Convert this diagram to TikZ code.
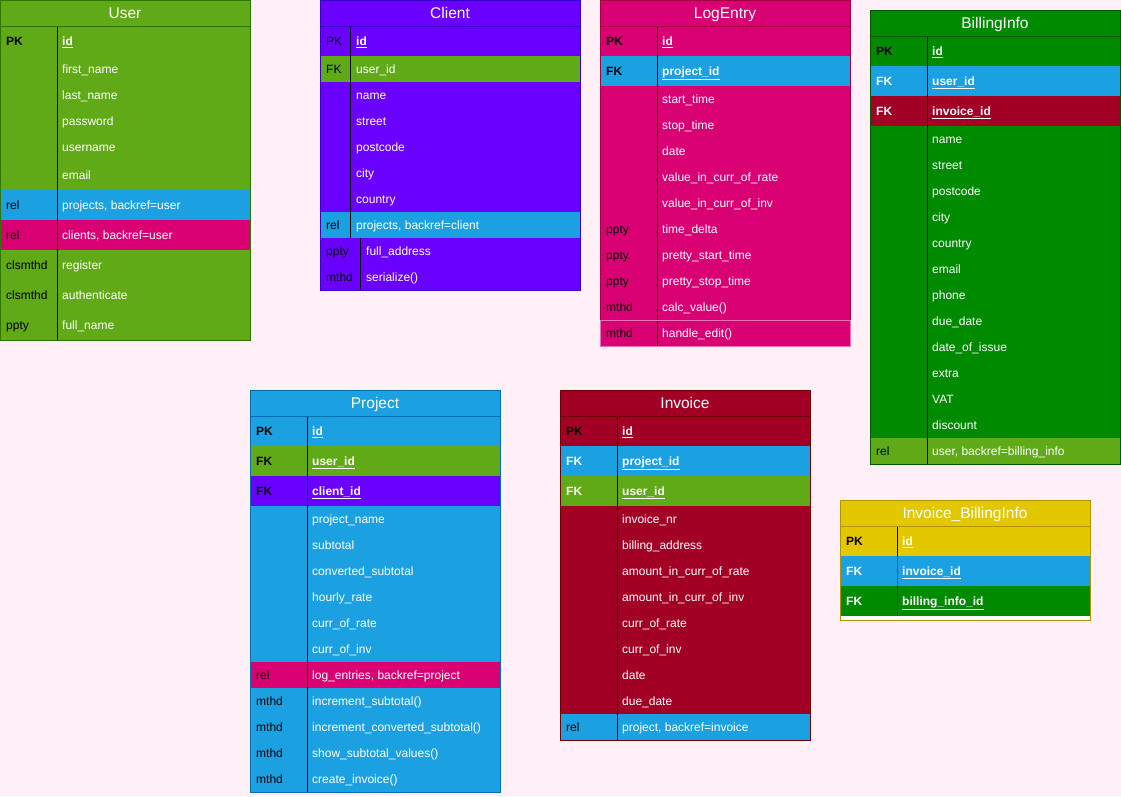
\documentclass[tikz,border=0pt]{standalone}
\usepackage{fontspec}
\setmainfont{Liberation Sans}
\usepackage{tikz}

\definecolor{bgpink}{HTML}{FFF0F8}
\definecolor{grnU}{HTML}{60A917}  \definecolor{grnUd}{HTML}{2D7600}
\definecolor{purC}{HTML}{6A00FF}  \definecolor{purCd}{HTML}{3700CC}
\definecolor{pnkL}{HTML}{D80073}  \definecolor{pnkLd}{HTML}{A50040}
\definecolor{grnB}{HTML}{008A00}  \definecolor{grnBd}{HTML}{005700}
\definecolor{bluP}{HTML}{1BA1E2}  \definecolor{bluPd}{HTML}{006EAF}
\definecolor{redI}{HTML}{A20025}  \definecolor{redId}{HTML}{6F0000}
\definecolor{ylwIB}{HTML}{E3C800} \definecolor{ylwIBd}{HTML}{B09500}

\newcommand{\idf}[1]{\textbf{\underline{#1}}}
\newcommand{\kb}[1]{\textbf{#1}}
\newcommand{\kw}[1]{\textcolor{white}{\textbf{#1}}}

\tikzset{
  hdr/.style={anchor=base, text=white, inner sep=0pt, font=\fontsize{15.5}{18}\selectfont},
  keytxt/.style={anchor=base west, text=black, inner sep=0pt, font=\fontsize{12}{14}\selectfont},
  valtxt/.style={anchor=base west, text=white, inner sep=0pt, font=\fontsize{12}{14}\selectfont},
  sep/.style={white, opacity=.25, line width=.8},
  divline/.style={black, line width=.8},
}

% header of a table: name, width, fill, title
\newcommand{\tabhead}[4]{%
  \fill[#3] (0,0) rectangle (#2,26);
  \node[hdr] (#1) at ({#2/2},18.5) {#4};}
% rows of a table: name, width, x of values, list top/bottom/fill/key/value
\newcommand{\tabrows}[4]{%
  \foreach \ta/\tb/\cl/\ky/\vl [count=\n] in {#4}{
    \fill[\cl] (0,\ta) rectangle (#2,\tb);
    \draw[sep] (0,\tb) -- (#2,\tb);
    \node[keytxt] (#1-k\n) at (6,{(\ta+\tb)/2+4.3}) {\ky};
    \node[valtxt] (#1-v\n) at (#3,{(\ta+\tb)/2+4.3}) {\vl};
  }}

\begin{document}
\begin{tikzpicture}[x=1pt,y=-1pt]
  \fill[bgpink] (0,0) rectangle (1121,796);
  \useasboundingbox (0,0) rectangle (1121,796);

  % User
  \begin{scope}[shift={(0,0)}]
    \tabhead{user}{250}{grnU}{User}
    \tabrows{user}{250}{62}{26/56/grnU/\kb{PK}/\idf{id}, 56/82/grnU//first\_name,
      82/108/grnU//last\_name, 108/134/grnU//password, 134/160/grnU//username,
      160/190/grnU//email, 190/220/bluP/rel/{projects, backref=user},
      220/250/pnkL/rel/{clients, backref=user}, 250/280/grnU/clsmthd/register,
      280/310/grnU/clsmthd/authenticate, 310/340/grnU/ppty/full\_name}
    \draw[divline] (57,26) -- (57,340);
    \draw[grnUd] (0,26) -- (250,26) (0,0) rectangle (250,340);
  \end{scope}

  % Client
  \begin{scope}[shift={(320,0)}]
    \tabhead{client}{260}{purC}{Client}
    \tabrows{client}{260}{36}{26/56/purC/PK/\idf{id}, 56/82/grnU/FK/user\_id,
      82/108/purC//name, 108/134/purC//street, 134/160/purC//postcode,
      160/186/purC//city, 186/212/purC//country,
      212/238/bluP/rel/{projects, backref=client}}
    \tabrows{clientb}{260}{46}{238/264/purC/ppty/full\_address,
      264/290/purC/mthd/{serialize()}}
    \draw[divline] (30,26) -- (30,238) (40,238) -- (40,290);
    \draw[purCd] (0,26) -- (260,26) (0,0) rectangle (260,290);
  \end{scope}

  % LogEntry
  \begin{scope}[shift={(600,0)}]
    \tabhead{logentry}{250}{pnkL}{LogEntry}
    \tabrows{logentry}{250}{62}{26/56/pnkL/\kb{PK}/\idf{id},
      56/86/bluP/\kb{FK}/\idf{project\_id}, 86/112/pnkL//start\_time,
      112/138/pnkL//stop\_time, 138/164/pnkL//date,
      164/190/pnkL//value\_in\_curr\_of\_rate, 190/216/pnkL//value\_in\_curr\_of\_inv,
      216/242/pnkL/ppty/time\_delta, 242/268/pnkL/ppty/pretty\_start\_time,
      268/294/pnkL/ppty/pretty\_stop\_time, 294/320/pnkL/mthd/{calc\_value()},
      320/346/pnkL/mthd/{handle\_edit()}}
    \draw[divline] (57,26) -- (57,346);
    \draw[pnkLd] (0,26) -- (250,26) (0,0) rectangle (250,320);
    \draw[pnkL!55!white] (0,320) rectangle (250,346);
  \end{scope}

  % BillingInfo
  \begin{scope}[shift={(870,10)}]
    \tabhead{billinginfo}{250}{grnB}{BillingInfo}
    \tabrows{billinginfo}{250}{62}{26/56/grnB/\kb{PK}/\idf{id},
      56/86/bluP/\kw{FK}/\idf{user\_id}, 86/116/redI/\kw{FK}/\idf{invoice\_id},
      116/142/grnB//name, 142/168/grnB//street, 168/194/grnB//postcode,
      194/220/grnB//city, 220/246/grnB//country, 246/272/grnB//email,
      272/298/grnB//phone, 298/324/grnB//due\_date, 324/350/grnB//date\_of\_issue,
      350/376/grnB//extra, 376/402/grnB//VAT, 402/428/grnB//discount,
      428/454/grnU/rel/{user, backref=billing\_info}}
    \draw[divline] (57,26) -- (57,454);
    \draw[grnBd] (0,26) -- (250,26) (0,0) rectangle (250,454);
  \end{scope}

  % Project
  \begin{scope}[shift={(250,390)}]
    \tabhead{project}{250}{bluP}{Project}
    \tabrows{project}{250}{62}{26/56/bluP/\kb{PK}/\idf{id},
      56/86/grnU/\kb{FK}/\idf{user\_id}, 86/116/purC/\kb{FK}/\idf{client\_id},
      116/142/bluP//project\_name, 142/168/bluP//subtotal,
      168/194/bluP//converted\_subtotal, 194/220/bluP//hourly\_rate,
      220/246/bluP//curr\_of\_rate, 246/272/bluP//curr\_of\_inv,
      272/298/pnkL/rel/{log\_entries, backref=project},
      298/324/bluP/mthd/{increment\_subtotal()},
      324/350/bluP/mthd/{increment\_converted\_subtotal()},
      350/376/bluP/mthd/{show\_subtotal\_values()},
      376/402/bluP/mthd/{create\_invoice()}}
    \draw[divline] (57,26) -- (57,402);
    \draw[bluPd] (0,26) -- (250,26) (0,0) rectangle (250,402);
  \end{scope}

  % Invoice
  \begin{scope}[shift={(560,390)}]
    \tabhead{invoice}{250}{redI}{Invoice}
    \tabrows{invoice}{250}{62}{26/56/redI/\kb{PK}/\idf{id},
      56/86/bluP/\kw{FK}/\idf{project\_id}, 86/116/grnU/\kw{FK}/\idf{user\_id},
      116/142/redI//invoice\_nr, 142/168/redI//billing\_address,
      168/194/redI//amount\_in\_curr\_of\_rate, 194/220/redI//amount\_in\_curr\_of\_inv,
      220/246/redI//curr\_of\_rate, 246/272/redI//curr\_of\_inv,
      272/298/redI//date, 298/324/redI//due\_date,
      324/350/bluP/rel/{project, backref=invoice}}
    \draw[divline] (57,26) -- (57,350);
    \draw[redId] (0,26) -- (250,26) (0,0) rectangle (250,350);
  \end{scope}

  % Invoice_BillingInfo
  \begin{scope}[shift={(840,500)}]
    \tabhead{invbill}{250}{ylwIB}{Invoice\_BillingInfo}
    \tabrows{invbill}{250}{62}{26/56/ylwIB/\kb{PK}/\idf{id},
      56/86/bluP/\kw{FK}/\idf{invoice\_id}, 86/116/grnB/\kw{FK}/\idf{billing\_info\_id}}
    \fill[white] (0,116) rectangle (250,120);
    \draw[divline] (57,26) -- (57,56);
    \draw[bluPd, line width=.8] (57,56) -- (57,86);
    \draw[grnBd, line width=.8] (57,86) -- (57,116);
    \draw[ylwIBd] (0,26) -- (250,26) (0,0) rectangle (250,120);
  \end{scope}
\end{tikzpicture}
\end{document}
